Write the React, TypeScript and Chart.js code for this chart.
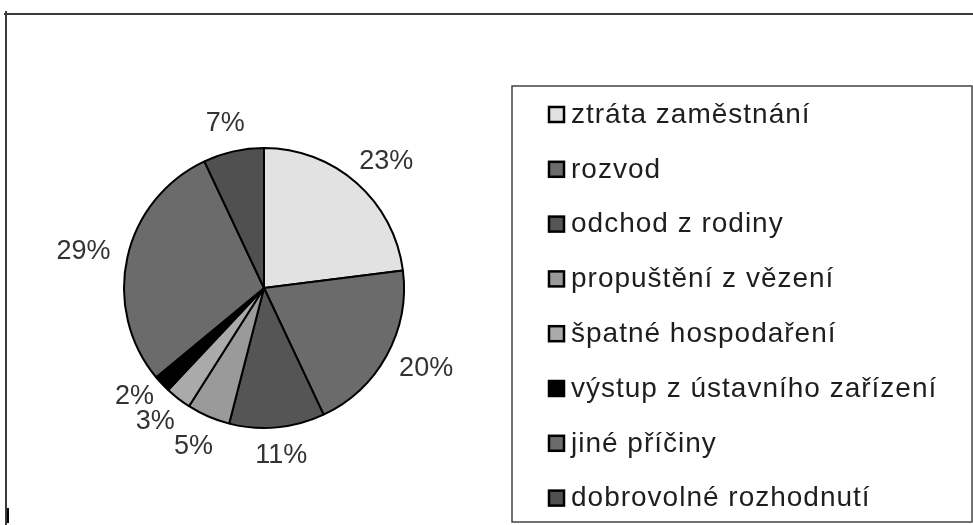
import React, { useEffect, useRef } from "react";
import { Chart, registerables } from "chart.js";

Chart.register(...registerables);

const categories = [
  "ztráta zaměstnání",
  "rozvod",
  "odchod z rodiny",
  "propuštění z vězení",
  "špatné hospodaření",
  "výstup z ústavního zařízení",
  "jiné příčiny",
  "dobrovolné rozhodnutí",
];
const shares = [23, 20, 11, 5, 3, 2, 29, 7];
const sliceColors = ["#e2e2e2", "#6b6b6b", "#555555", "#9a9a9a", "#aaaaaa", "#000000", "#6b6b6b", "#505050"];

const FONT = "'Liberation Sans', Arial, sans-serif";

const framePlugin = {
  id: "frame",
  beforeDraw(chart: any) {
    const ctx = chart.ctx;
    ctx.save();
    ctx.fillStyle = "#ffffff";
    ctx.fillRect(0, 0, chart.width, chart.height);
    ctx.strokeStyle = "#3a3a3a";
    ctx.lineWidth = 2;
    ctx.beginPath();
    ctx.moveTo(4, 14);
    ctx.lineTo(chart.width, 14);
    ctx.moveTo(6, 11);
    ctx.lineTo(6, chart.height);
    ctx.stroke();
    ctx.fillStyle = "#000";
    ctx.fillRect(7, 508, 2, 15);
    ctx.restore();
  },
};

const labelPlugin = {
  id: "outLabels",
  afterDatasetsDraw(chart: any) {
    const ctx = chart.ctx;
    const meta = chart.getDatasetMeta(0);
    const values = chart.data.datasets[0].data;
    ctx.save();
    ctx.font = `27px ${FONT}`;
    ctx.fillStyle = "#333333";
    ctx.textAlign = "center";
    ctx.textBaseline = "middle";
    const boxes: { t: string; x: number; y: number; w: number }[] = [];
    meta.data.forEach((arc: any, i: number) => {
      const p = arc.getProps(["x", "y", "startAngle", "endAngle", "outerRadius"], true);
      const mid = (p.startAngle + p.endAngle) / 2;
      const text = values[i] + "%";
      const w = ctx.measureText(text).width;
      const h = 20;
      const d = p.outerRadius + 18;
      boxes.push({
        t: text,
        w,
        x: p.x + Math.cos(mid) * d + Math.cos(mid) * (w / 2),
        y: p.y + Math.sin(mid) * d + Math.sin(mid) * (h / 2),
      });
    });
    const minGap = 25;
    for (let pass = 0; pass < 6; pass++) {
      for (let i = 0; i < boxes.length; i++) {
        for (let j = i + 1; j < boxes.length; j++) {
          const a = boxes[i];
          const b = boxes[j];
          if (Math.abs(a.x - b.x) >= (a.w + b.w) / 2) continue;
          const dy = b.y - a.y;
          if (Math.abs(dy) >= minGap) continue;
          const push = (minGap - Math.abs(dy)) / 2;
          const s = dy >= 0 ? 1 : -1;
          a.y -= s * push;
          b.y += s * push;
        }
      }
    }
    boxes.forEach((b) => ctx.fillText(b.t, b.x, b.y));
    ctx.restore();
  },
};

const legendPlugin = {
  id: "boxLegend",
  afterDraw(chart: any) {
    const ctx = chart.ctx;
    const labels = chart.data.labels;
    const colors = chart.data.datasets[0].backgroundColor;
    ctx.save();
    ctx.strokeStyle = "#444444";
    ctx.lineWidth = 1.5;
    ctx.strokeRect(512, 86, 460, 436);
    ctx.font = `28px ${FONT}`;
    try {
      (ctx as any).letterSpacing = "1px";
    } catch (e) {}
    ctx.textBaseline = "middle";
    ctx.textAlign = "left";
    labels.forEach((lab: string, i: number) => {
      const cy = 114 + i * 54.8;
      ctx.fillStyle = colors[i];
      ctx.fillRect(549, cy - 7, 15, 15);
      ctx.strokeStyle = "#000";
      ctx.lineWidth = 2.5;
      ctx.strokeRect(549, cy - 7, 15, 15);
      ctx.fillStyle = "#1e1e1e";
      ctx.fillText(lab, 571, cy + 1);
    });
    ctx.restore();
  },
};

export default function App() {
  const ref = useRef<HTMLCanvasElement>(null);
  useEffect(() => {
    if (!ref.current) return;
    const chart = new Chart(ref.current, {
      type: "pie",
      data: {
        labels: categories,
        datasets: [
          {
            data: shares,
            backgroundColor: sliceColors,
            borderColor: "#000000",
            borderWidth: 2,
          },
        ],
      },
      options: {
        responsive: false,
        animation: false,
        layout: { padding: { left: 123, right: 568, top: 147, bottom: 96 } },
        plugins: { legend: { display: false }, tooltip: { enabled: false } },
      },
      plugins: [framePlugin, labelPlugin, legendPlugin],
    } as any);
    return () => chart.destroy();
  }, []);
  return (
    <div style={{ position: "absolute", left: 0, top: 0, width: 973, height: 525 }}>
      <canvas ref={ref} width={973} height={525} style={{ width: 973, height: 525 }} />
    </div>
  );
}
